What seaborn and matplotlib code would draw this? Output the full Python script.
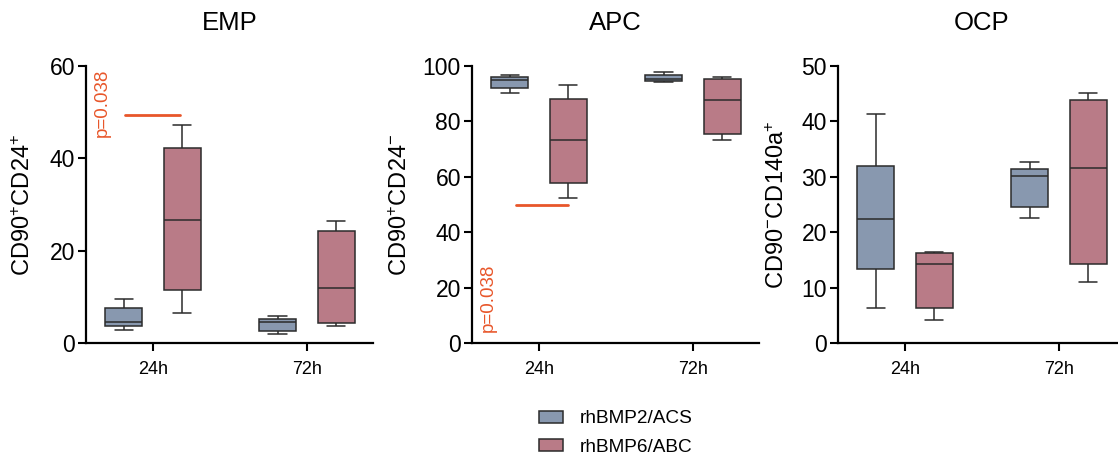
import numpy as np
import pandas as pd
import matplotlib
matplotlib.use("Agg")
import matplotlib.pyplot as plt
from matplotlib.patches import Patch
import seaborn as sns

sns.set_style("ticks")
plt.rcParams['font.family'] = ['Liberation Sans', 'DejaVu Sans']
plt.rcParams['mathtext.fontset'] = 'custom'
plt.rcParams['mathtext.rm'] = 'Liberation Sans'
plt.rcParams['mathtext.default'] = 'regular'
plt.rcParams['text.color'] = 'black'
plt.rcParams['axes.labelcolor'] = 'black'
plt.rcParams['xtick.color'] = 'black'
plt.rcParams['ytick.color'] = 'black'

# five-number summaries (min, Q1, median, Q3, max)
times = ['24h', '72h']
groups = ['rhBMP2/ACS', 'rhBMP6/ABC']

emp_bmp2_24 = [2.8, 3.6, 4.5, 7.6, 9.5]
emp_bmp6_24 = [6.6, 11.5, 26.6, 42.2, 47.3]
emp_bmp2_72 = [2.0, 2.7, 4.6, 5.3, 5.8]
emp_bmp6_72 = [3.7, 4.3, 12.0, 24.3, 26.4]

apc_bmp2_24 = [90.3, 92.1, 95.1, 96.0, 96.9]
apc_bmp6_24 = [52.3, 57.6, 73.2, 88.2, 93.3]
apc_bmp2_72 = [94.1, 94.6, 95.3, 96.9, 97.8]
apc_bmp6_72 = [73.4, 75.6, 87.8, 95.4, 96.0]

ocp_bmp2_24 = [6.4, 13.4, 22.3, 32.0, 41.4]
ocp_bmp6_24 = [4.1, 6.3, 14.3, 16.2, 16.4]
ocp_bmp2_72 = [22.6, 24.5, 30.2, 31.4, 32.6]
ocp_bmp6_72 = [11.0, 14.3, 31.6, 43.8, 45.2]

titles = ['EMP', 'APC', 'OCP']
ylabels = ['CD90$^{+}$CD24$^{+}$', 'CD90$^{+}$CD24$^{-}$', 'CD90$^{-}$CD140a$^{+}$']
ymax = [60, 100, 50]
ystep = [20, 20, 10]
pval = 'p=0.038'


def make_df(b2_24, b6_24, b2_72, b6_72):
    rows = []
    for t, g, vals in [('24h', groups[0], b2_24), ('24h', groups[1], b6_24),
                       ('72h', groups[0], b2_72), ('72h', groups[1], b6_72)]:
        for v in vals:
            rows.append({'time': t, 'group': g, 'value': v})
    return pd.DataFrame(rows)


dfs = [make_df(emp_bmp2_24, emp_bmp6_24, emp_bmp2_72, emp_bmp6_72),
       make_df(apc_bmp2_24, apc_bmp6_24, apc_bmp2_72, apc_bmp6_72),
       make_df(ocp_bmp2_24, ocp_bmp6_24, ocp_bmp2_72, ocp_bmp6_72)]

colors = {'rhBMP2/ACS': '#8898AF', 'rhBMP6/ABC': '#B97B87'}
red = '#E8562A'

W, H = 1118, 459
fig = plt.figure(figsize=(W / 100, H / 100), dpi=100)
lefts = [86, 472, 838]
label_x = [-0.176, -0.208, -0.169]
axes = []
for i in range(3):
    ax = fig.add_axes([lefts[i] / W, 1 - 343 / H, 287 / W, 277 / H])
    sns.boxplot(data=dfs[i], x='time', y='value', hue='group', order=times,
                hue_order=groups, palette=colors, saturation=1, whis=(0, 100),
                width=0.76, gap=0.37, linecolor='#2b2b2b', linewidth=1.1,
                legend=False, ax=ax)
    ax.set_xlim(-0.435, 1.429)
    ax.set_ylim(0, ymax[i])
    ax.set_yticks(np.arange(0, ymax[i] + 1, ystep[i]))
    sns.despine(ax=ax)
    for s in ['left', 'bottom']:
        ax.spines[s].set_linewidth(1.6)
        ax.spines[s].set_color('black')
    ax.tick_params(axis='y', length=6, width=1.5, labelsize=16.5, pad=2)
    ax.tick_params(axis='x', length=6, width=1.5, labelsize=13, pad=7)
    ax.set_xlabel('')
    ax.set_ylabel(ylabels[i], fontsize=17)
    ax.yaxis.set_label_coords(label_x[i], 0.5)
    ax.set_title(titles[i], fontsize=18.5, pad=26)
    axes.append(ax)

# significance marks
axes[0].plot([-0.18, 0.175], [49.3, 49.3], color=red, lw=2)
axes[0].text(-0.33, 44.6, pval, rotation=90, color=red, fontsize=13.5,
             ha='center', va='bottom')
axes[1].plot([-0.15, 0.19], [49.9, 49.9], color=red, lw=2)
axes[1].text(-0.33, 4.0, pval, rotation=90, color=red, fontsize=13.5,
             ha='center', va='bottom')

handles = [Patch(facecolor=colors[g], edgecolor='#2b2b2b', linewidth=1.1) for g in groups]
fig.legend(handles, groups, loc='center', bbox_to_anchor=(616 / W, 1 - 433 / H),
           frameon=False, fontsize=13.7, handlelength=1.26, handleheight=0.58,
           labelspacing=0.58, handletextpad=0.85)

fig.savefig('out.png', dpi=100)
